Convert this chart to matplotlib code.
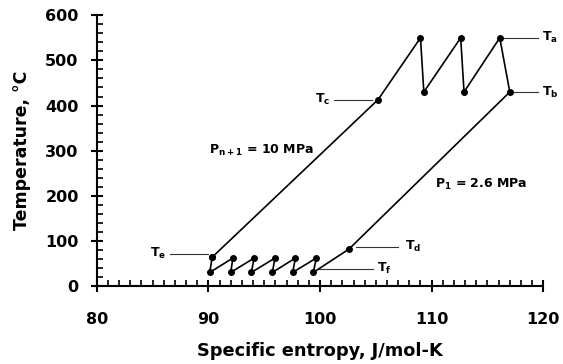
import matplotlib
matplotlib.use("Agg")
import matplotlib.pyplot as plt
from matplotlib.ticker import MultipleLocator

plt.rcParams['font.family'] = ['DejaVu Sans']
plt.rcParams['font.weight'] = 'bold'
plt.rcParams['mathtext.fontset'] = 'custom'
plt.rcParams['mathtext.rm'] = 'DejaVu Sans:bold'
plt.rcParams['mathtext.it'] = 'DejaVu Sans:bold'
plt.rcParams['mathtext.bf'] = 'DejaVu Sans:bold'

# Cycle path: Te -> intercooled compression zigzag -> Tf -> Td -> Tb -> reheats -> Tc -> Te
entropy = [90.35, 90.12, 92.2, 92.0, 94.1, 93.85, 95.97, 95.73, 97.8, 97.55,
           99.67, 99.4, 102.6, 117.0, 116.1, 112.9, 112.6, 109.3, 109.0, 105.2, 90.35]
temperature = [64, 30, 62, 30, 62, 30, 62, 30, 62, 30,
               62, 30, 82, 430, 550, 430, 550, 430, 550, 413, 64]

# State labels
state_labels = ['a', 'b', 'c', 'd', 'e', 'f']
label_line_s0 = [116.1, 117.3, 101.25, 103.25, 86.6, 99.9]
label_line_s1 = [119.5, 119.5, 104.65, 107.0, 90.0, 104.75]
label_line_T = [550, 430, 413, 87, 72, 38]
label_text_s = [119.9, 119.9, 100.9, 107.6, 86.2, 105.1]
label_text_T = [550, 430, 413, 87, 72, 38]
label_ha = ['left', 'left', 'right', 'left', 'right', 'left']

pressure_texts = [r'P$_{n+1}$ = 10 MPa', r'P$_1$ = 2.6 MPa']
pressure_s = [94.75, 114.45]
pressure_T = [300, 226]

fig = plt.figure(figsize=(5.63, 3.64), dpi=100)
ax = fig.add_axes([0.1718, 0.2143, 0.7932, 0.7437])

ax.plot(entropy, temperature, color='black', lw=1.2, marker='o', ms=4,
        markerfacecolor='black', markeredgecolor='black', zorder=3)

for lab, s0, s1, tl, ts, tt, ha in zip(state_labels, label_line_s0, label_line_s1,
                                       label_line_T, label_text_s, label_text_T, label_ha):
    ax.plot([s0, s1], [tl, tl], color='#333333', lw=0.8, clip_on=False)
    ax.text(ts, tt, 'T$_%s$' % lab, ha=ha, va='center', fontsize=9,
            fontweight='bold', clip_on=False)

for txt, s, t in zip(pressure_texts, pressure_s, pressure_T):
    ax.text(s, t, txt, ha='center', va='center', fontsize=9, fontweight='bold')

ax.set_xlim(80, 120)
ax.set_ylim(0, 600)
ax.xaxis.set_major_locator(MultipleLocator(10))
ax.xaxis.set_minor_locator(MultipleLocator(1))
ax.yaxis.set_major_locator(MultipleLocator(100))
ax.yaxis.set_minor_locator(MultipleLocator(20))

for side in ['top', 'right']:
    ax.spines[side].set_visible(False)
for side in ['left', 'bottom']:
    ax.spines[side].set_linewidth(1.5)

ax.tick_params(which='major', direction='inout', length=9, width=1.5,
               labelsize=11.5)
ax.tick_params(axis='x', which='major', pad=14.5)
ax.tick_params(axis='y', which='major', pad=8.5)
ax.tick_params(which='minor', direction='in', length=4, width=1.2)
for lbl in ax.get_xticklabels() + ax.get_yticklabels():
    lbl.set_fontweight('bold')

ax.set_xlabel('Specific entropy, J/mol-K', fontsize=12.8, fontweight='bold', labelpad=10.5)
ax.set_ylabel('Temperature, °C', fontsize=12.5, fontweight='bold', labelpad=10)

fig.savefig('out.png', dpi=100, facecolor='white')
